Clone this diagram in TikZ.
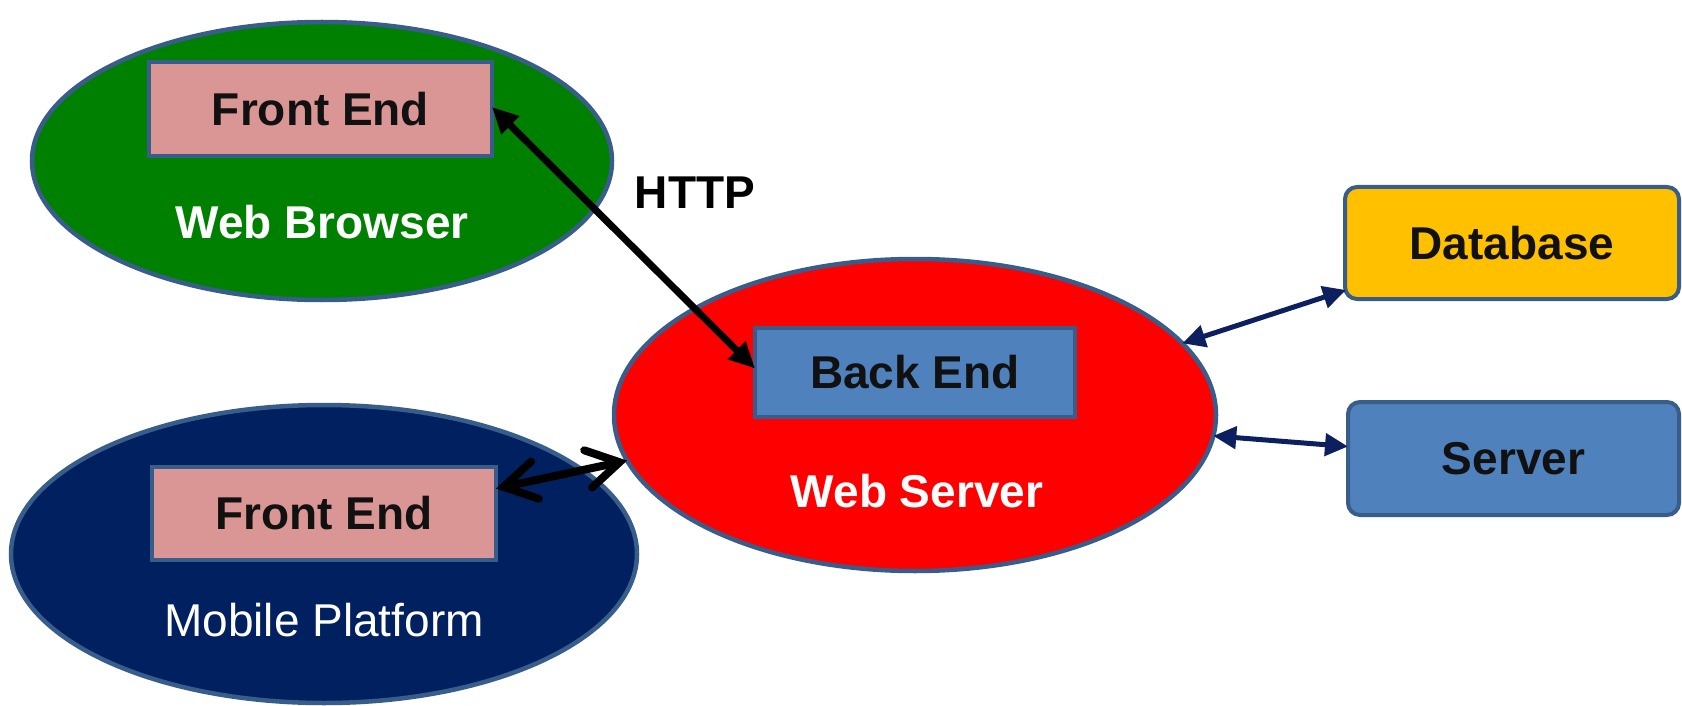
\documentclass[tikz,border=0pt]{standalone}
\usepackage{fontspec}
\setmainfont{Liberation Sans}
\usetikzlibrary{shapes.geometric,arrows.meta}
\definecolor{edge}{HTML}{385D8A}
\definecolor{bgreen}{HTML}{008000}
\definecolor{mnavy}{HTML}{002060}
\definecolor{fepink}{HTML}{D99694}
\definecolor{beblue}{HTML}{4F81BD}
\definecolor{dbgold}{HTML}{FFC000}
\definecolor{anavy}{HTML}{0C1F5E}
\definecolor{txt}{HTML}{111111}
\tikzset{
  blob/.style={ellipse, draw=edge, line width=4.5pt, inner sep=0pt, outer sep=0pt},
  part/.style={rectangle, draw=edge, line width=4pt, inner sep=0pt, outer sep=0pt,
     font=\fontsize{46}{55}\selectfont\bfseries, text=txt},
  rpart/.style={part, rounded corners=12pt},
  lab/.style={font=\fontsize{46}{55}\selectfont\bfseries, text=white, inner sep=0pt},
  httparrow/.style={line width=7pt, black, {Triangle[length=26pt,width=24pt]}-{Triangle[length=26pt,width=24pt]}},
  mobarrow/.style={line width=8pt, black, line cap=round, {Straight Barb[length=32pt,width=38pt,line cap=round]}-{Straight Barb[length=32pt,width=38pt,line cap=round]}},
  navyarrow/.style={line width=5pt, anavy, {Triangle[length=23pt,width=22pt]}-{Triangle[length=23pt,width=22pt]}}
}
\begin{document}
\begin{tikzpicture}[x=1pt,y=-1pt]
\useasboundingbox (0,0) rectangle (1682,706);
% ellipses
\node[blob, fill=bgreen, minimum width=580pt, minimum height=278pt] (wb) at (322,161) {};
\node[blob, fill=red, minimum width=602pt, minimum height=312pt] (ws) at (915,415) {};
\node[blob, fill=mnavy, minimum width=626pt, minimum height=298pt] (mp) at (324,554) {};
% boxes
\node[part, fill=fepink, minimum width=343pt, minimum height=94pt] (fe1) at (320.5,109) {Front End};
\node[part, fill=beblue, minimum width=320pt, minimum height=89pt] (be) at (915,372.5) {Back End};
\node[part, fill=fepink, minimum width=344pt, minimum height=93pt] (fe2) at (324,513.5) {Front End};
\node[rpart, fill=dbgold, minimum width=334pt, minimum height=112pt] (db) at (1512,243) {Database};
\node[rpart, fill=beblue, minimum width=331pt, minimum height=113pt] (srv) at (1513.5,458.5) {Server};
% labels
\node[lab] (wbl) at (322,222) {Web Browser};
\node[lab] (wsl) at (917,491) {Web Server};
\node[lab, font=\fontsize{46}{55}\selectfont] (mpl) at (324,620) {Mobile Platform};
\node[lab, text=black] (http) at (695,193) {HTTP};
% connectors
\draw[httparrow] ([yshift=2pt]fe1.east) -- ([yshift=4pt]be.west);
\draw[mobarrow] ([yshift=25pt]fe2.east) -- (ws.189);
\draw[navyarrow] (ws.15) -- ([shift={(1pt,9pt)}]db.south west);
\draw[navyarrow] (ws.-4) -- ([yshift=12pt]srv.west);
\end{tikzpicture}
\end{document}
